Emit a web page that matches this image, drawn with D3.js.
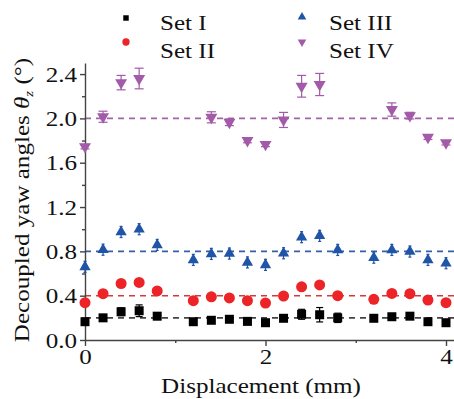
<!DOCTYPE html>
<html>
<head>
<meta charset="utf-8">
<script src="https://cdn.jsdelivr.net/npm/d3@7"></script>
<style>
  html, body { margin: 0; padding: 0; background: #fff; }
  svg { display: block; }
  text { font-family: "Liberation Serif", "DejaVu Serif", serif; fill: #111; }
</style>
</head>
<body>
<div id="chart"></div>
<script>
// displacement (mm) for sets I-III
const xVals = [0, 0.2, 0.4, 0.6, 0.8, 1.2, 1.4, 1.6, 1.8, 2.0, 2.2, 2.4, 2.6, 2.8, 3.2, 3.4, 3.6, 3.8, 4.0];
const setI    = [0.165, 0.20, 0.255, 0.264, 0.215, 0.165, 0.178, 0.187, 0.168, 0.156, 0.196, 0.232, 0.228, 0.20, 0.196, 0.21, 0.215, 0.165, 0.156];
const setIErr = [0.03, 0.02, 0.035, 0.053, 0.03, 0.015, 0.015, 0.015, 0.015, 0.015, 0.02, 0.045, 0.065, 0.042, 0.015, 0.015, 0.015, 0.02, 0.015];
const setII    = [0.337, 0.418, 0.51, 0.52, 0.443, 0.355, 0.39, 0.38, 0.355, 0.334, 0.397, 0.48, 0.497, 0.40, 0.367, 0.42, 0.418, 0.361, 0.337];
const setIIErr = [0.02, 0.02, 0.02, 0.02, 0.02, 0.02, 0.02, 0.02, 0.02, 0.02, 0.02, 0.02, 0.02, 0.02, 0.02, 0.02, 0.02, 0.02, 0.02];
const setIII    = [0.66, 0.815, 0.975, 1.0, 0.858, 0.723, 0.777, 0.78, 0.70, 0.678, 0.783, 0.928, 0.94, 0.813, 0.743, 0.813, 0.798, 0.723, 0.693];
const setIIIErr = [0.05, 0.05, 0.05, 0.05, 0.05, 0.05, 0.05, 0.05, 0.05, 0.05, 0.05, 0.05, 0.05, 0.05, 0.05, 0.05, 0.05, 0.05, 0.05];
// set IV has fewer points
const xValsIV = [0, 0.2, 0.4, 0.6, 1.4, 1.6, 1.8, 2.0, 2.2, 2.4, 2.6, 3.4, 3.6, 3.8, 4.0];
const setIV    = [1.745, 2.015, 2.323, 2.36, 2.01, 1.965, 1.80, 1.765, 1.986, 2.29, 2.306, 2.08, 2.025, 1.83, 1.78];
const setIVErr = [0.02, 0.05, 0.065, 0.093, 0.05, 0.03, 0.02, 0.02, 0.068, 0.098, 0.1, 0.06, 0.03, 0.02, 0.02];
// nominal values (dashed lines)
const nominal = [0.2, 0.4, 0.8, 2.0];

const yTicks = [0, 0.4, 0.8, 1.2, 1.6, 2.0, 2.4];
const yMinor = [0.2, 0.6, 1.0, 1.4, 1.8, 2.2];
const xTicks = [0, 2, 4];
const xMinor = [1, 3];

const seriesNames = ['Set I', 'Set II', 'Set III', 'Set IV'];
const colors = ['#000000', '#ec2327', '#1f54a6', '#a35aa8'];
const lineColors = ['#444444', '#d43a3a', '#3560a6', '#a363a8'];

const width = 454, height = 399;
const margin = { top: 63, left: 85, bottom: 59 };
const stretch = 1.14; // text in the figure is set wide

const x = d3.scaleLinear().domain([0, 4.1]).range([margin.left, margin.left + 4.1 * 90.25]);
const y = d3.scaleLinear().domain([0, 2.5]).range([height - margin.bottom, margin.top]);

const svg = d3.select('#chart').append('svg')
  .attr('width', width)
  .attr('height', height);

const series = [
  { name: seriesNames[0], xs: xVals, ys: setI, err: setIErr, symbol: d3.symbolSquare, size: 81, rot: 0, cap: 7 },
  { name: seriesNames[1], xs: xVals, ys: setII, err: setIIErr, symbol: d3.symbolCircle, size: 95, rot: 0, cap: 6 },
  { name: seriesNames[2], xs: xVals, ys: setIII, err: setIIIErr, symbol: d3.symbolTriangle, size: 55, rot: 0, cap: 3 },
  { name: seriesNames[3], xs: xValsIV, ys: setIV, err: setIVErr, symbol: d3.symbolTriangle, size: 62, rot: 180, cap: 9 },
];

// dashed nominal lines
svg.append('g').selectAll('line')
  .data(nominal)
  .join('line')
  .attr('x1', x(0)).attr('x2', width)
  .attr('y1', d => y(d)).attr('y2', d => y(d))
  .attr('stroke', (d, i) => lineColors[i])
  .attr('stroke-width', 1.6)
  .attr('stroke-dasharray', '6,5');

// axes
const axisColor = '#444';

const yAxis = svg.append('g')
  .attr('transform', `translate(${margin.left},0)`)
  .call(d3.axisLeft(y).tickValues(yTicks).tickFormat(d3.format('.1f')).tickSize(5).tickSizeOuter(0).tickPadding(2));
svg.append('g')
  .attr('transform', `translate(${margin.left},0)`)
  .call(d3.axisLeft(y).tickValues(yMinor).tickFormat('').tickSize(3).tickSizeOuter(0))
  .select('.domain').remove();

const xAxis = svg.append('g')
  .attr('transform', `translate(0,${y(0)})`)
  .call(d3.axisBottom(x).tickValues(xTicks).tickFormat(d3.format('d')).tickSize(6).tickSizeOuter(0).tickPadding(2));
svg.append('g')
  .attr('transform', `translate(0,${y(0)})`)
  .call(d3.axisBottom(x).tickValues(xMinor).tickFormat('').tickSize(3).tickSizeOuter(0))
  .select('.domain').remove();

svg.selectAll('.domain, .tick line')
  .attr('stroke', axisColor)
  .attr('stroke-width', 1.4);
svg.selectAll('.tick text')
  .style('font-family', '"Liberation Serif", serif')
  .style('font-size', '22px')
  .attr('fill', '#111')
  .attr('transform', `scale(${stretch},1)`);

// error bars + markers
series.forEach((s, si) => {
  const g = svg.append('g').attr('class', 'series');
  const pts = s.xs.map((xv, i) => ({ x: xv, y: s.ys[i], e: s.err[i] }));
  const eb = g.selectAll('.err').data(pts).join('g').attr('class', 'err')
    .attr('stroke', colors[si]).attr('stroke-width', 1.2);
  eb.append('line')
    .attr('x1', d => x(d.x)).attr('x2', d => x(d.x))
    .attr('y1', d => y(d.y - d.e)).attr('y2', d => y(d.y + d.e));
  [-1, 1].forEach(sign => {
    eb.append('line')
      .attr('x1', d => x(d.x) - s.cap / 2).attr('x2', d => x(d.x) + s.cap / 2)
      .attr('y1', d => y(d.y + sign * d.e)).attr('y2', d => y(d.y + sign * d.e));
  });
  g.selectAll('.pt').data(pts).join('path').attr('class', 'pt')
    .attr('d', d3.symbol().type(s.symbol).size(s.size))
    .attr('transform', d => `translate(${x(d.x)},${y(d.y)}) rotate(${s.rot})`)
    .attr('fill', colors[si]);
});

// wide text helper
function wideText(parent, tx, ty, rot, anchor) {
  return parent.append('g')
    .attr('transform', `translate(${tx},${ty}) rotate(${rot}) scale(${stretch},1)`)
    .append('text')
    .attr('text-anchor', anchor)
    .style('font-size', '22px');
}

// legend
const legendPos = [
  { mx: 126, my: 18, tx: 160, ty: 30 },
  { mx: 126, my: 42, tx: 160, ty: 58 },
  { mx: 302, my: 17, tx: 329, ty: 30 },
  { mx: 302, my: 42, tx: 329, ty: 58 },
];
const legendSizes = [30, 42, 32, 32];
const legend = svg.append('g').attr('class', 'legend');
series.forEach((s, i) => {
  const p = legendPos[i];
  legend.append('path')
    .attr('d', d3.symbol().type(s.symbol).size(legendSizes[i]))
    .attr('transform', `translate(${p.mx},${p.my}) rotate(${s.rot})`)
    .attr('fill', colors[i]);
  wideText(legend, p.tx, p.ty, 0, 'start').text(s.name);
});

// axis titles
wideText(svg, 261, 393, 0, 'middle').text('Displacement (mm)');

const yt = wideText(svg, 29, 200, -90, 'middle');
yt.append('tspan').text('Decoupled yaw angles ');
yt.append('tspan').style('font-style', 'italic').text('θ');
yt.append('tspan').style('font-style', 'italic').style('font-size', '13px').attr('dy', 4).text('z');
yt.append('tspan').attr('dy', -4).text(' (°)');
</script>
</body>
</html>
